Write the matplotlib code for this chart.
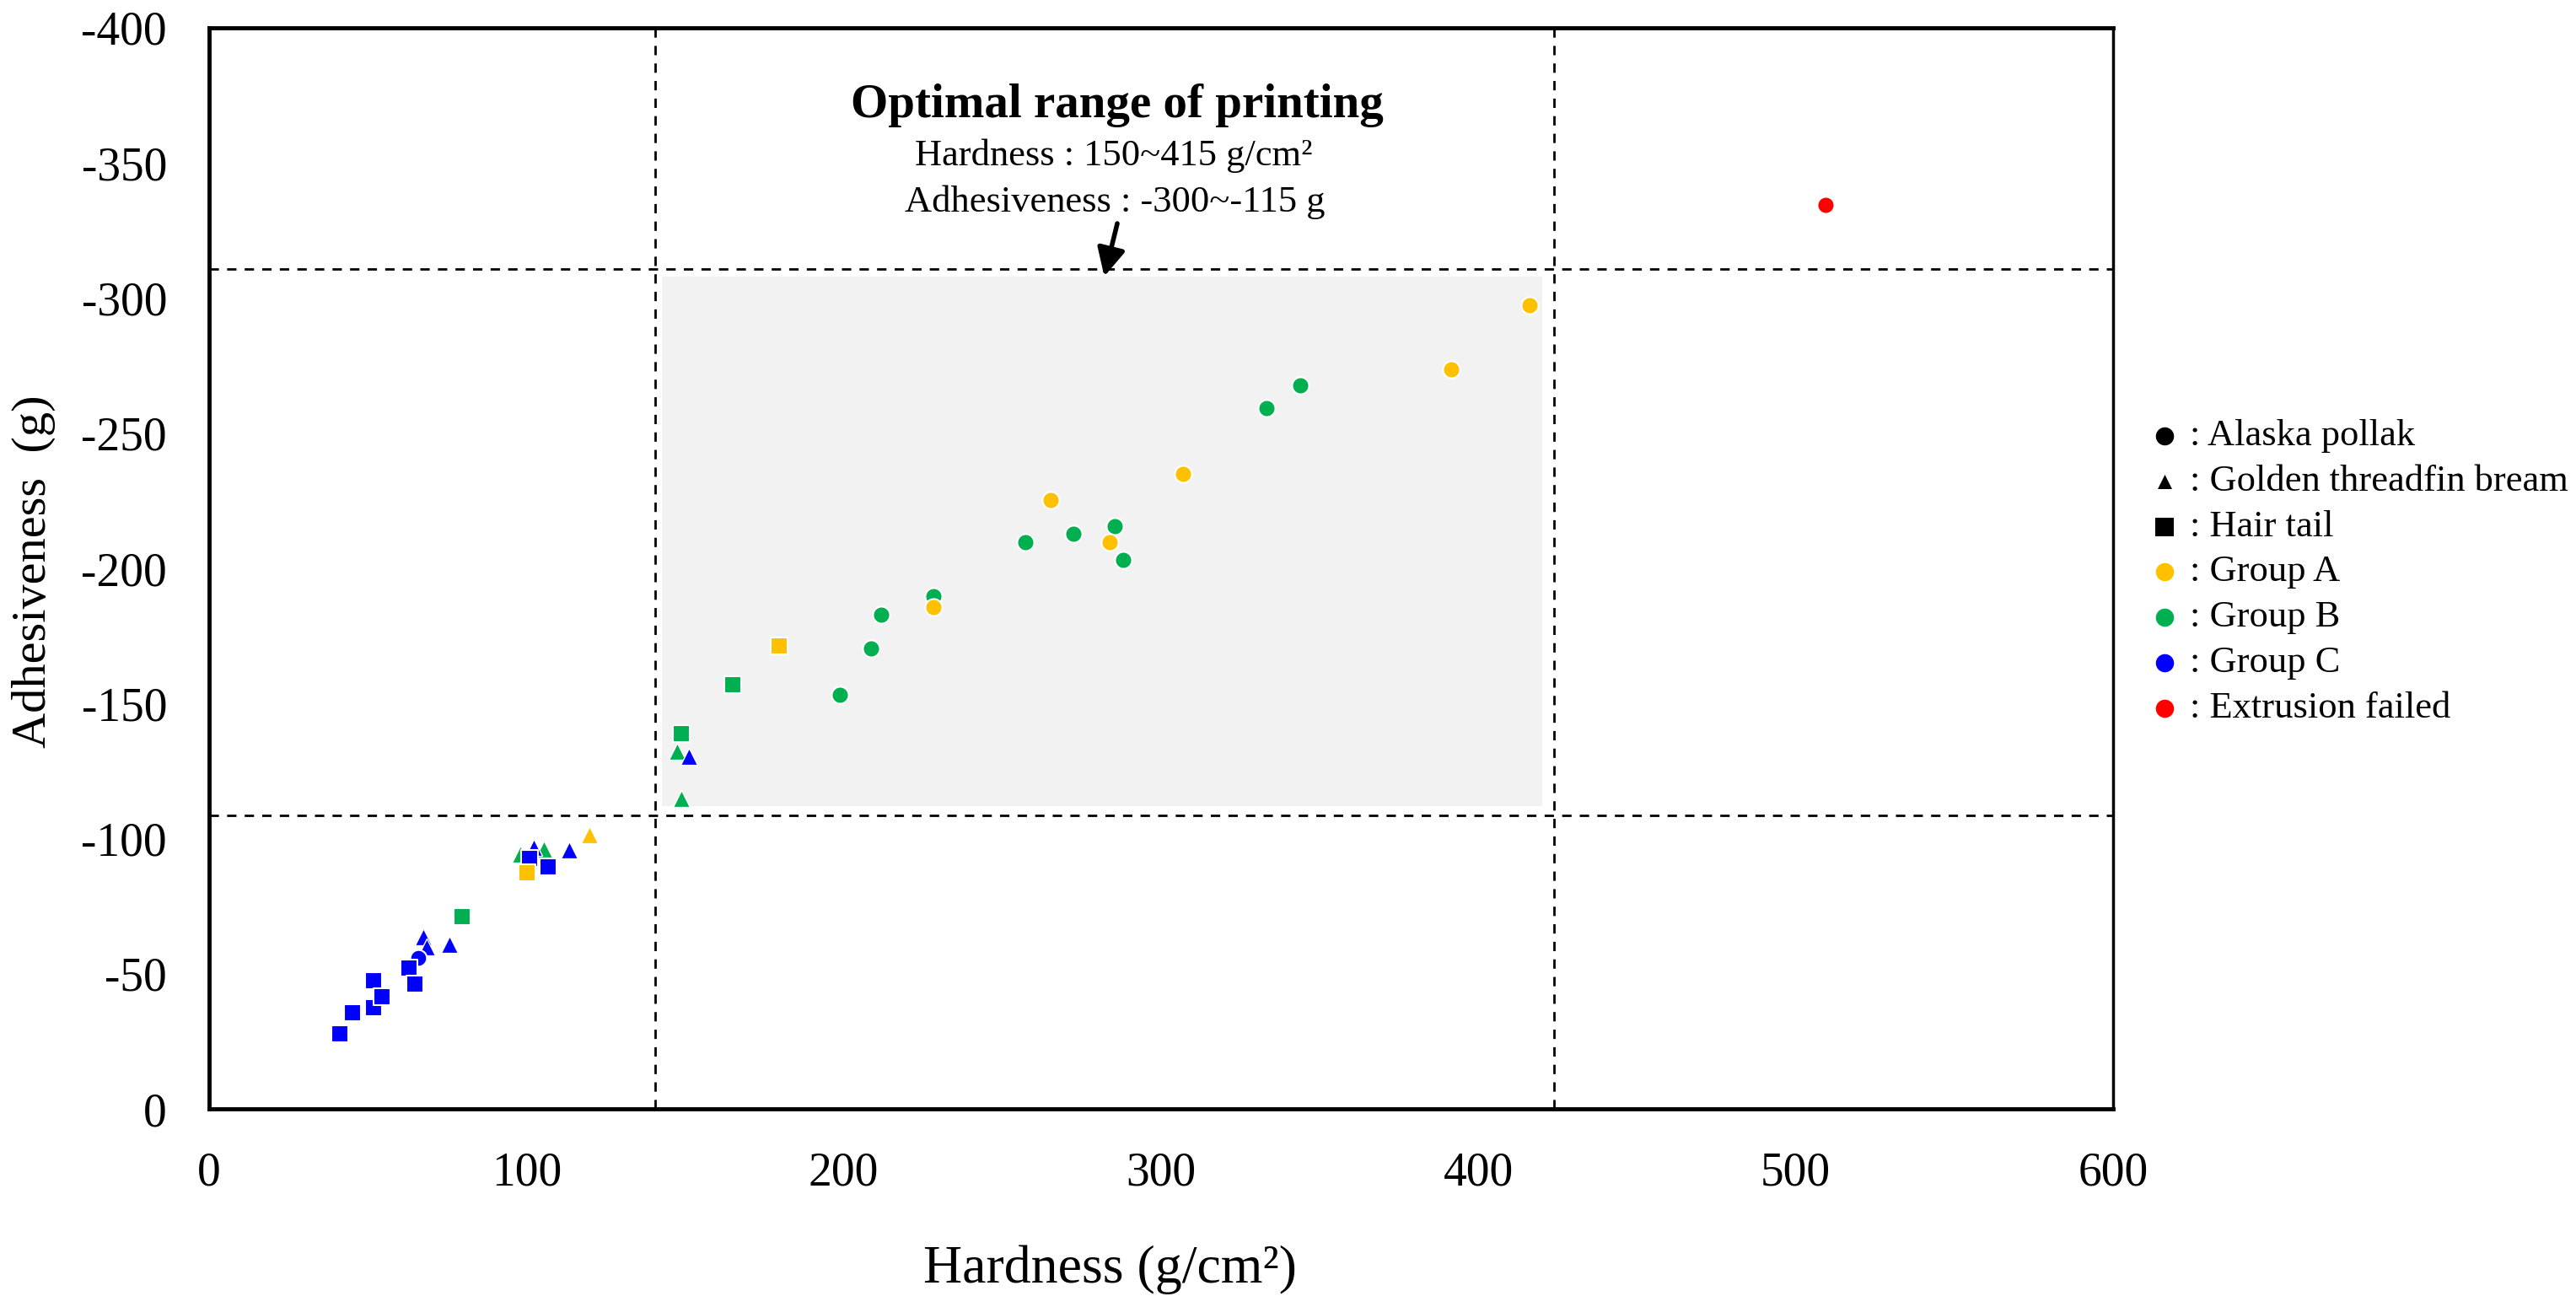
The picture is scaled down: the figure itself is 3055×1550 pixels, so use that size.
import matplotlib
matplotlib.use("Agg")
import matplotlib.pyplot as plt

plt.rcParams['font.family'] = ['Liberation Serif', 'DejaVu Serif']
plt.rcParams['axes.unicode_minus'] = False

# values (hardness g/cm2, adhesiveness g)
groupA_circle_x = [416.2, 391.4, 307.0, 265.2, 283.9, 228.3]
groupA_circle_y = [-297.5, -273.5, -234.8, -225.4, -209.8, -185.6]
groupA_tri_x = [119.9]
groupA_tri_y = [-101.4]
groupA_sq_x = [179.7, 100.2]
groupA_sq_y = [-171.4, -87.4]

groupB_circle_x = [343.9, 333.2, 257.1, 272.5, 285.5, 288.1, 228.3, 211.9, 208.5, 198.7]
groupB_circle_y = [-267.6, -259.2, -209.8, -212.9, -215.6, -203.1, -189.8, -182.9, -170.4, -153.1]
groupB_tri_x = [147.5, 148.7, 98.0, 105.5]
groupB_tri_y = [-132.4, -114.9, -94.2, -96.2]
groupB_sq_x = [165.1, 148.7, 79.8]
groupB_sq_y = [-157.0, -138.8, -71.2]

groupC_circle_x = [66.0]
groupC_circle_y = [-56.0]
groupC_tri_x = [151.1, 75.6, 113.5, 102.4, 67.5, 68.5]
groupC_tri_y = [-130.5, -60.8, -95.7, -96.7, -63.5, -60.0]
groupC_sq_x = [41.2, 45.2, 51.8, 51.8, 54.4, 63.0, 64.8, 106.8, 101.1]
groupC_sq_y = [-27.8, -35.7, -37.4, -47.3, -41.6, -52.0, -46.3, -89.4, -92.6]

failed_x = [509.4]
failed_y = [-334.5]

# optimal printing window (as drawn)
range_x = [140.5, 423.9]
range_y = [-310.8, -108.5]
shade_x = [142.6, 420.0]
shade_y = [-308.0, -112.0]

x_ticks = [0, 100, 200, 300, 400, 500, 600]
y_ticks = [0, -50, -100, -150, -200, -250, -300, -350, -400]

legend_labels = [': Alaska pollak', ': Golden threadfin bream', ': Hair tail',
                 ': Group A', ': Group B', ': Group C', ': Extrusion failed']
legend_markers = ['o', '^', 's', 'o', 'o', 'o', 'o']
legend_colors = ['black', 'black', 'black', '#FFC000', '#00B050', '#0000FF', '#FF0000']
legend_sizes = [240, 150, 260, 240, 240, 240, 240]

colors = {'A': '#FFC000', 'B': '#00B050', 'C': '#0000FF'}

fig = plt.figure(figsize=(30.55, 15.5), dpi=100)
ax = fig.add_axes([0.08118, 0.15161, 0.7391, 0.8271])

ax.fill_between(shade_x, shade_y[0], shade_y[1], color='#F2F2F2', lw=0, zorder=0)
dash = (0, (4, 3.5))
for xv in range_x:
    ax.axvline(xv, color='black', lw=2, linestyle=dash, zorder=1)
for yv in range_y:
    ax.axhline(yv, color='black', lw=2, linestyle=dash, zorder=1)

kw = dict(edgecolors='white', linewidths=1.5, zorder=3)
tkw = dict(edgecolors='white', linewidths=1.0, zorder=3)
ax.scatter(groupB_tri_x, groupB_tri_y, marker='^', s=210, c=colors['B'], **tkw)
ax.scatter(groupC_tri_x, groupC_tri_y, marker='^', s=210, c=colors['C'], **tkw)
ax.scatter(groupA_tri_x, groupA_tri_y, marker='^', s=210, c=colors['A'], **tkw)
ax.scatter(groupC_circle_x, groupC_circle_y, marker='o', s=200, c=colors['C'], **kw)
ax.scatter(groupB_sq_x, groupB_sq_y, marker='s', s=200, c=colors['B'], **kw)
ax.scatter(groupC_sq_x, groupC_sq_y, marker='s', s=200, c=colors['C'], **kw)
ax.scatter(groupA_sq_x, groupA_sq_y, marker='s', s=200, c=colors['A'], **kw)
ax.scatter(groupB_circle_x, groupB_circle_y, marker='o', s=210, c=colors['B'], **kw)
ax.scatter(groupA_circle_x, groupA_circle_y, marker='o', s=210, c=colors['A'], **kw)
ax.scatter(failed_x, failed_y, marker='o', s=210, c='#FF0000', **kw)

ax.set_xlim(0, 600)
ax.set_ylim(0, -400)
ax.set_xticks(x_ticks)
ax.set_yticks(y_ticks)
ax.set_xticklabels([str(v) for v in x_ticks])
ax.set_yticklabels([str(v) for v in y_ticks])
ax.tick_params(length=0, labelsize=40, pad=36)
for side in ['left', 'bottom', 'top']:
    ax.spines[side].set_linewidth(3.5)
ax.spines['right'].set_linewidth(2.5)

ax.text(0.473, -0.149, 'Hardness (g/cm²)', transform=ax.transAxes,
        ha='center', va='center', fontsize=46)
ax.text(-0.092, 0.497, 'Adhesiveness  (g)', transform=ax.transAxes,
        ha='center', va='center', rotation=90, fontsize=42)

# annotation for the optimal window
ax.text(286.2, -371.3, 'Optimal range of printing', ha='center', va='center',
        fontsize=41, fontweight='bold')
ax.text(285.0, -352.6, 'Hardness : 150~415 g/cm²', ha='center', va='center', fontsize=32)
ax.text(285.5, -335.4, 'Adhesiveness : -300~-115 g', ha='center', va='center', fontsize=32)
ax.annotate('', xy=(282.1, -308.0), xytext=(286.2, -327.6),
            arrowprops=dict(arrowstyle='-|>', mutation_scale=50, lw=4,
                            color='black', shrinkA=0, shrinkB=0))

# hand-made legend outside the axes
for i, lab in enumerate(legend_labels):
    yy = (1315 - (517 + i * 53.8)) / 1282
    ax.scatter([1.027], [yy], marker=legend_markers[i], s=legend_sizes[i],
               c=legend_colors[i], transform=ax.transAxes, clip_on=False, lw=0)
    ax.text(1.0403, yy, lab, transform=ax.transAxes, ha='left', va='center', fontsize=32)

fig.savefig('out.png', dpi=100)
